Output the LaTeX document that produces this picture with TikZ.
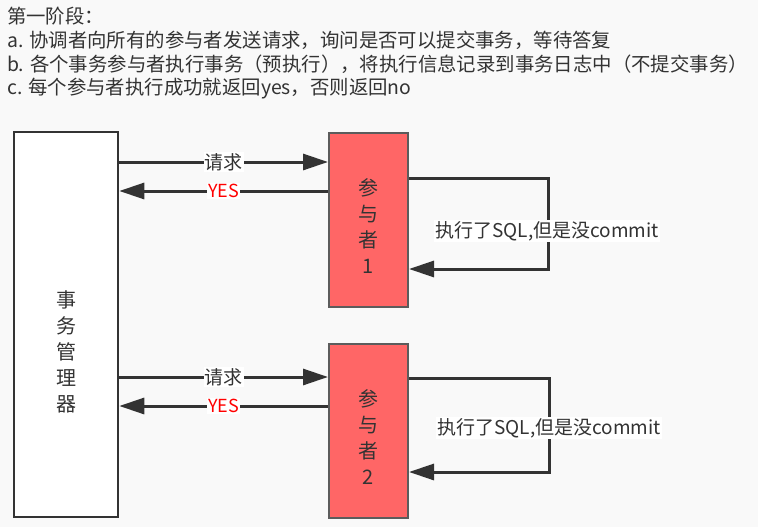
\documentclass[tikz,border=0pt]{standalone}
\usepackage{fontspec}
\setmainfont{Noto Sans CJK SC}
\usetikzlibrary{arrows.meta,calc}
\definecolor{bg}{HTML}{F9F9F9}
\definecolor{ink}{HTML}{333333}
\definecolor{pfill}{HTML}{FF6666}
\definecolor{yesred}{HTML}{FF0000}
\begin{document}
\begin{tikzpicture}[x=1pt,y=-1pt,
  box/.style={draw=ink,line width=2.5pt,fill=white,minimum width=104pt,minimum height=385pt,inner sep=0pt},
  pbox/.style={draw=ink!80,line width=2pt,fill=pfill,minimum width=79pt,minimum height=174pt,inner sep=0pt},
  vtext/.style={font=\fontsize{20}{26}\selectfont,text=ink,align=center},
  conn/.style={draw=ink,line width=3pt,-{Triangle[length=25pt,width=16pt]}},
  lbl/.style={fill=white,inner sep=1pt,font=\fontsize{19}{21}\selectfont,text=ink},
  ylbl/.style={fill=white,inner sep=1pt,font=\fontsize{18}{21}\selectfont,text=yesred},
  headtext/.style={anchor=north west,align=left,font=\fontsize{19.4}{23.7}\selectfont,text=ink,inner sep=0pt}]
\fill[bg] (0,0) rectangle (758,527);
\useasboundingbox (0,0) rectangle (758,527);
\node[headtext] (head) at (7,7) {第一阶段：\\a. 协调者向所有的参与者发送请求，询问是否可以提交事务，等待答复\\b. 各个事务参与者执行事务（预执行），将执行信息记录到事务日志中（不提交事务）\\c. 每个参与者执行成功就返回yes，否则返回no};
\node[box] (mgr) at (66,324.5) {};
\node[vtext] (mgrt) at (66,352) {事\\务\\管\\理\\器};
\node[pbox] (p1) at (368.5,219.5) {};
\node[vtext] (p1t) at (368.5,226) {参\\与\\者\\1};
\node[pbox] (p2) at (368.5,430.5) {};
\node[vtext] (p2t) at (368.5,437) {参\\与\\者\\2};
% participant 1
\draw[conn] (mgr.east |- 0,162) -- node[lbl] (req1) {请求} (p1.west |- 0,162);
\draw[conn] (p1.west |- 0,191) -- node[ylbl] (yes1) {YES} (mgr.east |- 0,191);
\draw[conn] (p1.east |- 0,178) -- (548,178) -- (548,269) -- (p1.east |- 0,269);
\node[lbl] (ex1) at (547,231) {执行了SQL,但是没commit};
% participant 2
\draw[conn] (mgr.east |- 0,377) -- node[lbl] (req2) {请求} (p2.west |- 0,377);
\draw[conn] (p2.west |- 0,406) -- node[ylbl] (yes2) {YES} (mgr.east |- 0,406);
\draw[conn] (p2.east |- 0,378) -- (549,378) -- (549,472) -- (p2.east |- 0,472);
\node[lbl] (ex2) at (549,428) {执行了SQL,但是没commit};
\end{tikzpicture}
\end{document}
